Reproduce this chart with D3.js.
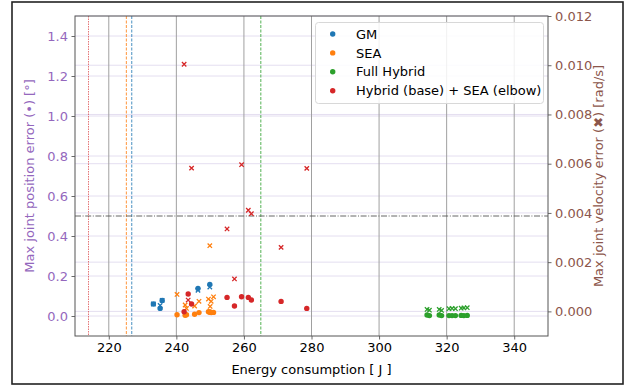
<!DOCTYPE html>
<html><head><meta charset="utf-8">
<script src="https://cdn.jsdelivr.net/npm/d3@7"></script>
<style>body{margin:0;background:#fff}svg{display:block;font-family:"DejaVu Sans",sans-serif}</style>
</head><body><svg id="c" width="629" height="389"></svg>
<script>
const seriesNames = ["GM", "SEA", "Full Hybrid", "Hybrid (base) + SEA (elbow)"];
const seriesColors = ["#1f77b4", "#ff7f0e", "#2ca02c", "#d62728"];
const gmEnergy = [233.2, 235.2, 235.8, 246.4, 249.9];
const gmPos = [0.060, 0.038, 0.078, 0.138, 0.158];
const gmVel = [0.0003, 0.00024, 0.00045, 0.00086, 0.00099];
const seaEnergy = [240.2, 242.6, 243.0, 245.4, 246.7, 249.5, 249.9, 250.0, 250.3, 251.0];
const seaPos = [0.006, 0.004, 0.006, 0.009, 0.017, 0.021, 0.019, 0.020, 0.017, 0.018];
const seaVel = [0.00069, 0.00026, 0.00012, 0.00022, 0.00041, 0.00050, 0.00267, 0.00020, 0.00041, 0.00059];
const fhEnergy = [314.2, 314.9, 317.8, 318.5, 320.7, 321.6, 322.6, 324.3, 325.1, 326.1];
const fhPos = [0.005, 0.002, 0.005, 0.002, 0.002, 0.002, 0.002, 0.003, 0.002, 0.003];
const fhVel = [0.00008, 0.00005, 0.00008, 0.00004, 0.00011, 0.00012, 0.00011, 0.00013, 0.00014, 0.00015];
const hyEnergy = [242.3, 243.5, 244.5, 255.0, 257.2, 259.3, 261.3, 262.2, 271.0, 278.6];
const hyPos = [0.021, 0.110, 0.060, 0.093, 0.050, 0.096, 0.093, 0.080, 0.073, 0.038];
const hyVel = [0.01004, 0.00046, 0.00582, 0.00335, 0.00132, 0.00596, 0.00411, 0.00397, 0.0026, 0.00581];
const refEnergy = [226.8, 225.2, 265.0, 214.0]; // per-series reference lines (GM, SEA, Full Hybrid, Hybrid)
const posThreshold = 0.5;
const xTicks = [220, 240, 260, 280, 300, 320, 340];
const yLeftTicks = [0.0, 0.2, 0.4, 0.6, 0.8, 1.0, 1.2, 1.4];
const yRightTicks = [0.000, 0.002, 0.004, 0.006, 0.008, 0.010, 0.012];

const svg = d3.select("#c");
const L = 75, R = 548, T = 16, B = 336;
const x = d3.scaleLinear([210, 350], [L, R]);
const yL = d3.scaleLinear([-0.1, 1.5], [B, T]);
const yR = d3.scaleLinear([-0.001, 0.012], [B, T]);
const purple = "#9467bd", brown = "#8c564b";

// outer frame
svg.append("rect").attr("x", 12).attr("y", 2).attr("width", 611).attr("height", 382)
  .attr("fill", "#fff").attr("stroke", "#222").attr("stroke-width", 1.6);

const g = svg.append("g");
// grids
g.selectAll(".hgl").data(yLeftTicks).join("line").attr("x1", L).attr("x2", R)
  .attr("y1", d => yL(d)).attr("y2", d => yL(d)).attr("stroke", "#e4def0").attr("stroke-width", 1);
g.selectAll(".hgr").data(yRightTicks).join("line").attr("x1", L).attr("x2", R)
  .attr("y1", d => yR(d)).attr("y2", d => yR(d)).attr("stroke", "#e4def0").attr("stroke-width", 1);
g.selectAll(".vg").data(xTicks).join("line").attr("y1", T).attr("y2", B)
  .attr("x1", d => x(d)).attr("x2", d => x(d)).attr("stroke", "#a0a0a0").attr("stroke-width", 1);

// reference lines
refEnergy.forEach((e, i) => {
  g.append("line").attr("x1", x(e)).attr("x2", x(e)).attr("y1", T).attr("y2", B)
    .attr("stroke", seriesColors[i]).attr("stroke-width", 0.9)
    .attr("stroke-dasharray", i === 3 ? "1.5,1" : "3,1.5").attr("opacity", i === 3 ? 0.7 : 0.9);
});
g.append("line").attr("x1", L).attr("x2", R).attr("y1", yL(posThreshold)).attr("y2", yL(posThreshold))
  .attr("stroke", "#555").attr("stroke-width", 0.9).attr("stroke-dasharray", "6,1.6,1,1.6");

const data = [
  [gmEnergy, gmPos, gmVel],
  [seaEnergy, seaPos, seaVel],
  [fhEnergy, fhPos, fhVel],
  [hyEnergy, hyPos, hyVel]
];
const s = 2.2;
data.forEach(([en, pos, vel], i) => {
  const c = seriesColors[i];
  const pts = en.map((e, k) => ({e, p: pos[k], v: vel[k]}));
  g.append("g").selectAll("path").data(pts).join("path")
    .attr("d", d => { const cx = x(d.e), cy = yR(d.v);
      return `M${cx-s},${cy-s}L${cx+s},${cy+s}M${cx-s},${cy+s}L${cx+s},${cy-s}`; })
    .attr("stroke", c).attr("stroke-width", 1.3).attr("fill", "none");
  g.append("g").selectAll("circle").data(pts).join("circle")
    .attr("cx", d => x(d.e)).attr("cy", d => yL(d.p)).attr("r", 2.7).attr("fill", c);
});

// axes
const ax = d3.axisBottom(x).tickValues(xTicks).tickFormat(d3.format("d")).tickSize(3.5).tickPadding(3.5);
const axB = svg.append("g").attr("transform", `translate(0,${B})`).call(ax);
axB.selectAll("text").attr("font-size", 13).attr("fill", "#000").attr("font-family", "DejaVu Sans");
const ayL = d3.axisLeft(yL).tickValues(yLeftTicks).tickFormat(d3.format(".1f")).tickSize(3.5).tickPadding(3.5);
const axL = svg.append("g").attr("transform", `translate(${L},0)`).call(ayL);
axL.selectAll("text").attr("font-size", 13).attr("fill", purple).attr("font-family", "DejaVu Sans");
const ayR = d3.axisRight(yR).tickValues(yRightTicks).tickFormat(d3.format(".3f")).tickSize(3.5).tickPadding(3.5);
const axR = svg.append("g").attr("transform", `translate(${R},0)`).call(ayR);
axR.selectAll("text").attr("font-size", 13).attr("fill", brown).attr("font-family", "DejaVu Sans");
[axB, axL, axR].forEach(a => { a.select(".domain").remove(); a.selectAll(".tick line").attr("stroke", "#444").attr("stroke-width", 0.8); });
svg.append("rect").attr("x", L).attr("y", T).attr("width", R - L).attr("height", B - T)
  .attr("fill", "none").attr("stroke", "#555").attr("stroke-width", 1);

// axis labels
svg.append("text").attr("x", (L + R) / 2).attr("y", 374).attr("text-anchor", "middle")
  .attr("font-size", 13).text("Energy consumption [ J ]");
svg.append("text").attr("transform", `translate(34,${(T + B) / 2}) rotate(-90)`).attr("text-anchor", "middle")
  .attr("font-size", 13).attr("fill", purple).text("Max joint position error (•) [°]");
svg.append("text").attr("transform", `translate(603,${(T + B) / 2}) rotate(-90)`).attr("text-anchor", "middle")
  .attr("font-size", 13).attr("fill", brown).text("Max joint velocity error (✖) [rad/s]");

// legend
const lg = svg.append("g");
lg.append("rect").attr("x", 315.5).attr("y", 22.5).attr("width", 228).attr("height", 81).attr("rx", 3)
  .attr("fill", "#fff").attr("fill-opacity", 0.85).attr("stroke", "#d8d8d8").attr("stroke-width", 1);
seriesNames.forEach((n, i) => {
  const yy = 34 + i * 18.9;
  lg.append("circle").attr("cx", 332.7).attr("cy", yy).attr("r", 2.7).attr("fill", seriesColors[i]);
  lg.append("text").attr("x", 356).attr("y", yy + 4.6).attr("font-size", 13).text(n);
});
</script></body></html>
